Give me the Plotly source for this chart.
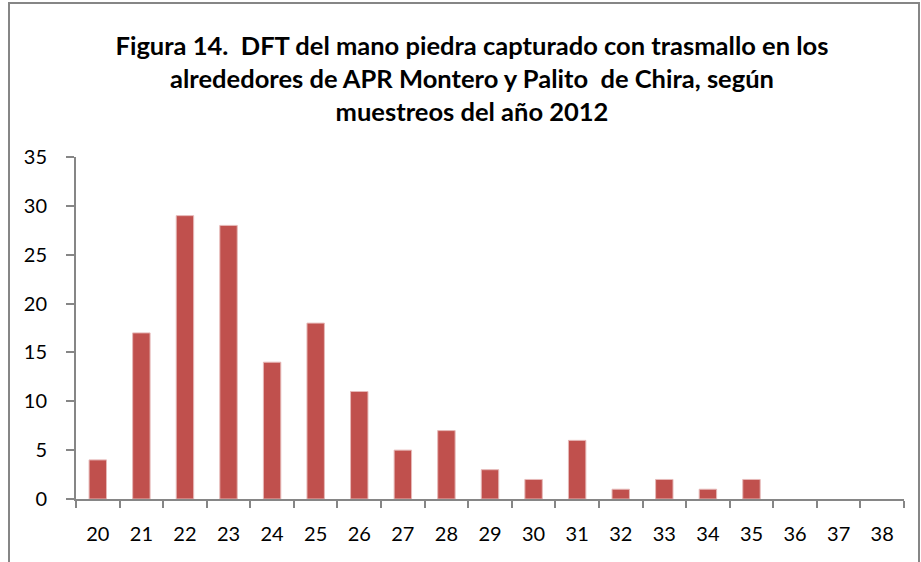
import plotly.graph_objects as go

# tallas (cm) y frecuencias
tallas = [str(t) for t in range(20, 39)]
frecuencia = [4, 17, 29, 28, 14, 18, 11, 5, 7, 3, 2, 6, 1, 2, 1, 2, 0, 0, 0]
y_ticks = [0, 5, 10, 15, 20, 25, 30, 35]

titulo = (
    "Figura 14.  DFT del mano piedra capturado con trasmallo en los<br>"
    "alrededores de APR Montero y Palito  de Chira, según<br>"
    "muestreos del año 2012"
)

W, H = 921, 562
ML, MT = 76, 157
pw, ph = 828, 342
MR, MB = W - ML - pw, H - MT - ph


def px_x(x):
    return (x - ML) / pw


def px_y(y):
    return (MT + ph - y) / ph


fig = go.Figure()
fig.add_trace(
    go.Bar(
        x=tallas,
        y=frecuencia,
        marker=dict(
            color="#C0504D",
            line=dict(color="#E6B9B8", width=[1 if v > 0 else 0 for v in frecuencia]),
        ),
    )
)

axis_gray = "#868686"
fig.update_layout(
    width=W,
    height=H,
    margin=dict(l=ML, r=MR, t=MT, b=MB),
    paper_bgcolor="white",
    plot_bgcolor="white",
    bargap=0.6,
    showlegend=False,
    font=dict(family="Lato, Carlito, sans-serif", color="black"),
    title=dict(
        text=titulo,
        x=472 / W,
        xanchor="center",
        y=1 - 55 / H,
        yanchor="top",
        font=dict(size=25.5, family="Lato, sans-serif", weight="bold"),
    ),
    xaxis=dict(
        type="category",
        showline=True,
        linecolor=axis_gray,
        linewidth=2,
        ticks="outside",
        tickson="boundaries",
        ticklen=7,
        tickcolor=axis_gray,
        tickwidth=2,
        tickfont=dict(size=20),
        showgrid=False,
        ticklabelstandoff=16,
    ),
    yaxis=dict(
        range=[0, 35],
        tickvals=y_ticks,
        showline=True,
        linecolor=axis_gray,
        linewidth=2,
        ticks="outside",
        ticklen=8,
        tickcolor=axis_gray,
        tickwidth=2,
        tickfont=dict(size=20),
        showgrid=False,
        zeroline=False,
        ticklabelstandoff=15,
    ),
    shapes=[
        dict(
            type="rect",
            xref="paper",
            yref="paper",
            x0=px_x(9),
            x1=px_x(919),
            y0=px_y(620),
            y1=px_y(3),
            line=dict(color=axis_gray, width=2),
            layer="above",
        )
    ],
)

# drop the default 8px page margin so the figure sits at the window corner
fig.write_html(
    "out.html",
    config={"displayModeBar": False},
    post_script="document.body.style.margin='0';",
)
